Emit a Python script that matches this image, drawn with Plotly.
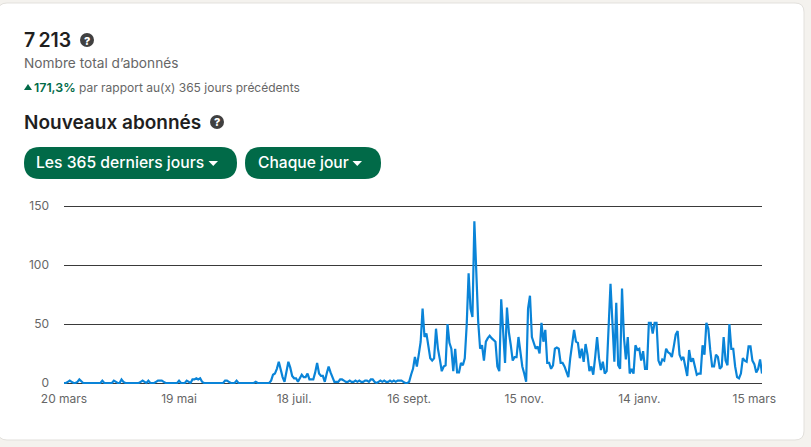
import pandas as pd
import plotly.graph_objects as go

W, H = 811, 447
FONT = "Inter"
GREEN = "#016a48"
GREY = "#666666"
DARK = "#1f1f1f"

# new followers per day, one row = 10 days
new_followers = [
    0, 0, 1, 2, 1, 0, 0, 1, 3, 1,
    0, 0, 0, 0, 0, 0, 0, 0, 0, 0,
    2, 0, 0, 0, 0, 0, 2, 1, 0, 0,
    3, 1, 0, 0, 0, 0, 0, 0, 0, 0,
    1, 2, 1, 0, 2, 0, 0, 0, 1, 2,
    2, 2, 1, 0, 0, 0, 0, 0, 0, 0,
    2, 0, 0, 0, 2, 1, 0, 3, 3, 4,
    3, 4, 1, 0, 0, 0, 0, 0, 0, 0,
    0, 0, 0, 0, 2, 2, 1, 0, 0, 0,
    2, 0, 0, 0, 0, 0, 0, 0, 0, 0,
    1, 0, 0, 0, 0, 0, 0, 0, 2, 7,
    8, 12, 18, 10, 5, 1, 10, 18, 13, 6,
    4, 4, 1, 4, 7, 5, 5, 8, 3, 3,
    3, 9, 17, 8, 6, 6, 1, 8, 14, 9,
    5, 1, 1, 1, 3, 3, 2, 1, 1, 2,
    1, 1, 2, 1, 2, 1, 1, 2, 2, 1,
    3, 3, 1, 0, 1, 2, 1, 2, 1, 1,
    2, 1, 2, 1, 2, 2, 2, 1, 0, 0,
    1, 7, 12, 22, 14, 24, 35, 63, 39, 42,
    31, 21, 19, 21, 46, 29, 20, 10, 14, 15,
    50, 34, 29, 10, 29, 9, 9, 17, 15, 21,
    49, 93, 63, 56, 137, 99, 52, 29, 32, 19,
    35, 38, 40, 38, 36, 35, 14, 10, 71, 48,
    17, 64, 43, 32, 19, 22, 22, 39, 28, 14,
    8, 1, 63, 74, 39, 34, 29, 31, 25, 51,
    35, 45, 17, 17, 12, 15, 29, 30, 29, 17,
    17, 14, 9, 5, 21, 33, 45, 35, 34, 21,
    29, 18, 33, 24, 10, 14, 7, 22, 39, 21,
    11, 18, 8, 10, 42, 84, 51, 18, 68, 15,
    12, 80, 39, 20, 39, 8, 12, 8, 32, 28,
    29, 19, 27, 12, 12, 51, 51, 42, 51, 51,
    19, 15, 20, 19, 29, 26, 25, 22, 31, 41,
    44, 24, 20, 22, 14, 6, 28, 18, 21, 15,
    7, 8, 8, 32, 24, 51, 46, 28, 14, 14,
    24, 22, 12, 14, 39, 19, 15, 50, 29, 29,
    14, 5, 4, 8, 21, 19, 18, 31, 31, 19,
    16, 9, 12, 20, 8,
]
first_day = "2022-03-20"
x_tick_days = ["2022-03-20", "2022-05-19", "2022-07-18", "2022-09-16",
               "2022-11-15", "2023-01-14", "2023-03-15"]
x_tick_labels = ["20 mars", "19 mai", "18 juil.", "16 sept.", "15 nov.", "14 janv.", "15 mars"]
y_ticks = [0, 50, 100, 150]

days = pd.date_range(first_day, periods=len(new_followers))


def px(x):
    return x / W


def py(y):
    return 1 - y / H


def rounded(x0, y0, x1, y1, r):
    # rounded box as a path, pixel coordinates turned into paper ones
    pts = [("M", x0 + r, y0), ("L", x1 - r, y0), ("Q", x1, y0, x1, y0 + r), ("L", x1, y1 - r),
           ("Q", x1, y1, x1 - r, y1), ("L", x0 + r, y1), ("Q", x0, y1, x0, y1 - r),
           ("L", x0, y0 + r), ("Q", x0, y0, x0 + r, y0)]
    out = ""
    for p in pts:
        out += p[0]
        for a, b in zip(p[1::2], p[2::2]):
            out += f" {px(a):.5f},{py(b):.5f} "
    return out + "Z"


def triangle(x0, x1, y0, y1, color):
    path = f"M {px(x0):.5f},{py(y0):.5f} L {px(x1):.5f},{py(y0):.5f} L {px((x0 + x1) / 2):.5f},{py(y1):.5f} Z"
    return dict(type="path", xref="paper", yref="paper", path=path, fillcolor=color, line_width=0)


def label(x, y, text, size, color, weight=400, anchor="left"):
    return dict(xref="paper", yref="paper", x=px(x), y=py(y), text=text, showarrow=False,
                xanchor=anchor, yanchor="middle", borderpad=0,
                font=dict(family=FONT, size=size, color=color, weight=weight))


def help_icon(x, y):
    return dict(type="circle", xref="paper", yref="paper", x0=px(x - 7), x1=px(x + 7),
                y0=py(y + 7), y1=py(y - 7), fillcolor="#404040", line_width=0)


fig = go.Figure(go.Scatter(x=days, y=new_followers, mode="lines",
                           line=dict(color="#0a84d8", width=2.2), hoverinfo="skip"))

shapes = [
    dict(type="path", xref="paper", yref="paper", path=rounded(-2, 3, 804, 440, 9),
         fillcolor="white", line=dict(color="#e2e0dc", width=1), layer="below"),
    dict(type="path", xref="paper", yref="paper", path=rounded(24, 147, 237, 179, 16),
         fillcolor=GREEN, line_width=0),
    dict(type="path", xref="paper", yref="paper", path=rounded(245, 147, 381, 179, 16),
         fillcolor=GREEN, line_width=0),
    triangle(208.5, 218, 161, 166, "white"),
    triangle(352.5, 362, 161, 166, "white"),
    triangle(24, 32, 90, 84, GREEN),
    help_icon(87, 40),
    help_icon(217, 122),
]

annotations = [
    label(23, 40, "7\u2009213", 19.5, DARK, 600),
    label(87, 40.5, "?", 11, "white", 800, "center"),
    label(23, 63, "Nombre total d\u2019abonnés", 13.7, GREY),
    label(33, 87, "171,3%", 12.4, GREEN, 600),
    label(78, 87, "par rapport au(x) 365 jours précédents", 12, GREY),
    label(23, 122, "Nouveaux abonnés", 19, DARK, 600),
    label(217, 122.5, "?", 11, "white", 800, "center"),
    label(35, 163, "Les 365 derniers jours", 15.7, "white", 500),
    label(257, 163, "Chaque jour", 15.6, "white", 500),
]

fig.update_layout(
    width=W, height=H, autosize=False,
    margin=dict(l=0, r=0, t=0, b=0, pad=0),
    paper_bgcolor="#f4f2ee", plot_bgcolor="rgba(0,0,0,0)",
    showlegend=False,
    font=dict(family=FONT, size=12, color=GREY),
    shapes=shapes, annotations=annotations,
    xaxis=dict(domain=[px(64), px(762)], range=[days[0], days[-1]], automargin=False,
               tickmode="array", tickvals=x_tick_days, ticktext=x_tick_labels,
               showgrid=False, zeroline=False, showline=False, ticks="", ticklabelstandoff=6,
               tickfont=dict(color=GREY, size=12)),
    # a unit of slack each way, plotly drops grid lines sitting exactly on the plot edge
    yaxis=dict(domain=[py(384.18), py(204.82)], range=[-1, 151], automargin=False,
               tickmode="array", tickvals=y_ticks,
               showgrid=True, gridcolor="#3a3a3a", gridwidth=1, zeroline=False, showline=False,
               ticks="", ticklabelstandoff=14, tickfont=dict(color=GREY, size=12)),
)

fig.write_html("out.html", config={"displayModeBar": False},
               post_script="document.body.style.margin='0';")
